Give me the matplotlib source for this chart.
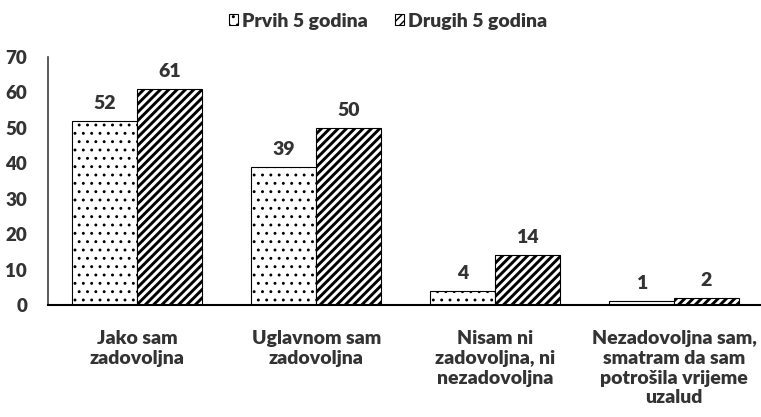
import matplotlib
matplotlib.use("Agg")
import matplotlib.pyplot as plt
import numpy as np

categories = ["Jako sam\nzadovoljna", "Uglavnom sam\nzadovoljna",
              "Nisam ni\nzadovoljna, ni\nnezadovoljna",
              "Nezadovoljna sam,\nsmatram da sam\npotrošila vrijeme\nuzalud"]
series_names = ["Prvih 5 godina", "Drugih 5 godina"]
prvih = [52, 39, 4, 1]
drugih = [61, 50, 14, 2]
yticks = [0, 10, 20, 30, 40, 50, 60, 70]

TXT = "#333333"
FS = 14
WT = 800
plt.rcParams['font.family'] = ['Lato', 'DejaVu Sans']
plt.rcParams['font.weight'] = WT

fig = plt.figure(figsize=(7.61, 4.17), dpi=100)
ax = fig.add_axes([48/761, 112/417, (763.5-48)/761, (305-57)/417])

x = np.arange(len(categories))
w = 65/179
b1 = ax.bar(x - w/2, prvih, w, facecolor='white', edgecolor='black', hatch='..',
            linewidth=0.8, label=series_names[0])
b2 = ax.bar(x + w/2, drugih, w, facecolor='white', edgecolor='black', hatch='////',
            linewidth=0.8, label=series_names[1])
for p in b1:
    p.set_hatch_linewidth(0.9)
for p in b2:
    p.set_hatch_linewidth(2.1)

for bars, vals in ((b1, prvih), (b2, drugih)):
    for r, v in zip(bars, vals):
        ax.annotate(str(v), (r.get_x() + r.get_width()/2, v), xytext=(0, 6.5),
                    textcoords='offset points', ha='center', va='bottom',
                    fontsize=FS, fontweight=WT, color=TXT)

ax.set_xlim(-0.5, 3.5)
ax.set_ylim(0, 70)
ax.set_yticks(yticks)
ax.set_yticklabels([str(t) for t in yticks], fontsize=13.5, fontweight=WT, color=TXT)
ax.set_xticks(x)
ax.set_xticklabels(categories, fontsize=FS, fontweight=WT, color=TXT,
                   linespacing=1.2, va='top')
ax.tick_params(axis='both', length=0)
ax.tick_params(axis='y', pad=15)
ax.tick_params(axis='x', pad=18)
for s in ('top', 'right'):
    ax.spines[s].set_visible(False)
ax.spines['left'].set_color('#404040')
ax.spines['bottom'].set_color('black')
ax.spines['left'].set_linewidth(1.2)
ax.spines['bottom'].set_linewidth(1.5)

leg = fig.legend(handles=[b1, b2], loc='center', bbox_to_anchor=(388/761, 1 - 21/417),
                 ncol=2, frameon=False, fontsize=FS, handlelength=0.45, handleheight=0.45,
                 handletextpad=0.2, columnspacing=1.4)
for t in leg.get_texts():
    t.set_color(TXT)
    t.set_fontweight(WT)

fig.savefig("out.png", dpi=100)
